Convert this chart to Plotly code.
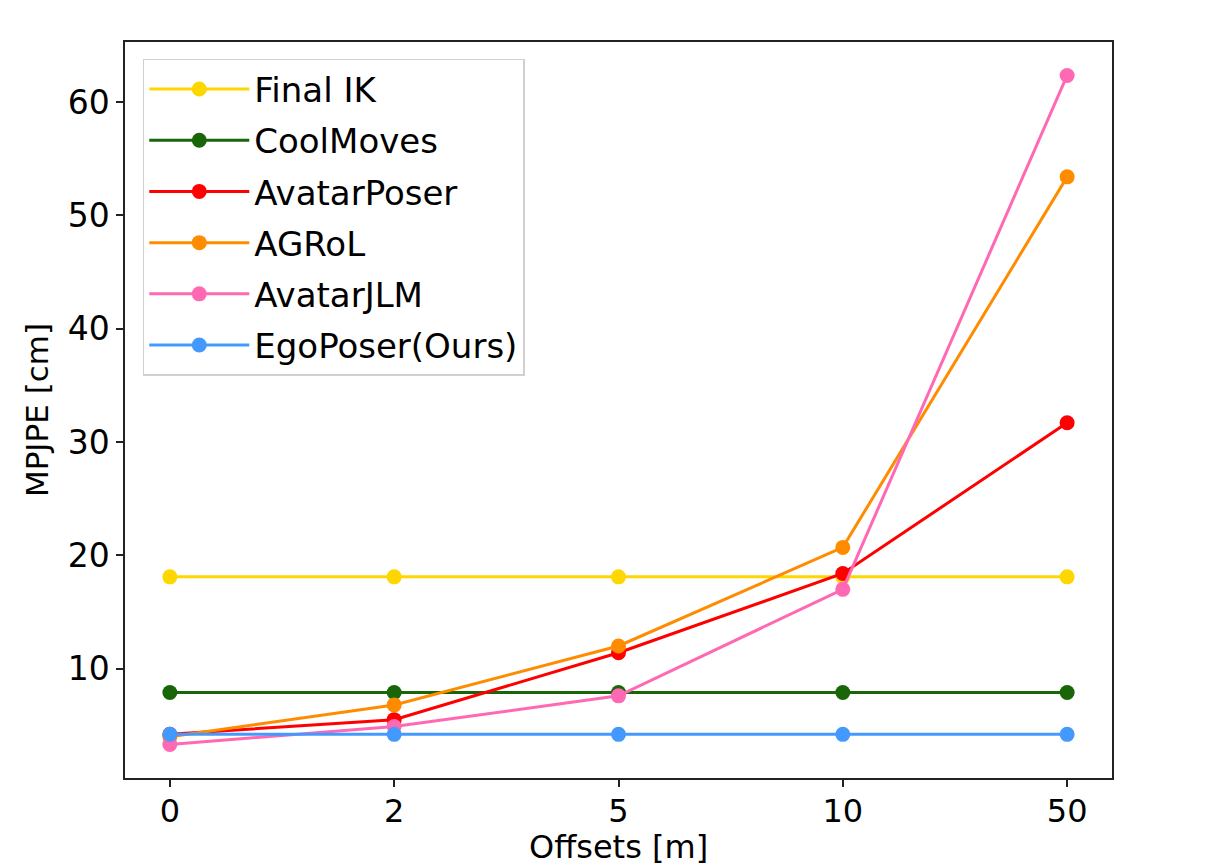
import plotly.graph_objects as go

offsets = ["0", "2", "5", "10", "50"]
final_ik = [18.1, 18.1, 18.1, 18.1, 18.1]
coolmoves = [7.9, 7.9, 7.9, 7.9, 7.9]
avatarposer = [4.2, 5.5, 11.4, 18.4, 31.7]
agrol = [4.0, 6.8, 12.0, 20.7, 53.4]
avatarjlm = [3.3, 4.9, 7.6, 17.0, 62.35]
egoposer = [4.2, 4.2, 4.2, 4.2, 4.2]

series = [
    ("Final IK", final_ik, "#FFD700"),
    ("CoolMoves", coolmoves, "#196608"),
    ("AvatarPoser", avatarposer, "#FF0000"),
    ("AGRoL", agrol, "#FF8C00"),
    ("AvatarJLM", avatarjlm, "#FF69B4"),
    ("EgoPoser(Ours)", egoposer, "#4499FF"),
]

FONT = "DejaVu Sans"
fig = go.Figure()
xpos = list(range(len(offsets)))
for i, (name, vals, color) in enumerate(series):
    fig.add_trace(go.Scatter(
        x=xpos, y=vals, name=name, mode="lines+markers", legendgroup=f"g{i}",
        line=dict(color=color, width=3),
        marker=dict(color=color, size=15),
    ))

fig.update_layout(
    width=1207, height=859,
    margin=dict(l=117, r=103, t=34, b=89),
    paper_bgcolor="white", plot_bgcolor="white",
    font=dict(family=FONT, size=33, color="black"),
    legend=dict(
        x=0.018, y=0.977, xanchor="left", yanchor="top",
        bordercolor="#d0d0d0", borderwidth=1.5, bgcolor="white",
        font=dict(size=34), itemwidth=100, tracegroupgap=4,
    ),
    showlegend=True,
    annotations=[dict(
        text="Offsets [m]", xref="paper", yref="paper", x=0.5, y=0,
        xanchor="center", yanchor="top", yshift=-48, showarrow=False,
        font=dict(family=FONT, size=32, color="black"),
    )],
)
fig.update_xaxes(
    range=[-0.2, 4.2], tickmode="array", tickvals=xpos, ticktext=offsets,
    showgrid=False, zeroline=False, showline=True, linecolor="#222", linewidth=1.5,
    mirror=True, ticks="outside", ticklen=7, tickwidth=1.5, tickcolor="#222",
    tickfont=dict(size=32), automargin=False, ticklabelstandoff=-3,
)
fig.update_yaxes(
    range=[0.35, 65.3], tickvals=[10, 20, 30, 40, 50, 60],
    showgrid=False, zeroline=False, showline=True, linecolor="#222", linewidth=1.5,
    mirror=True, ticks="outside", ticklen=7, tickwidth=1.5, tickcolor="#222",
    tickfont=dict(size=33), automargin=False,
    title=dict(text="MPJPE [cm]", font=dict(size=31), standoff=10),
)

fig.write_html("out.html")
